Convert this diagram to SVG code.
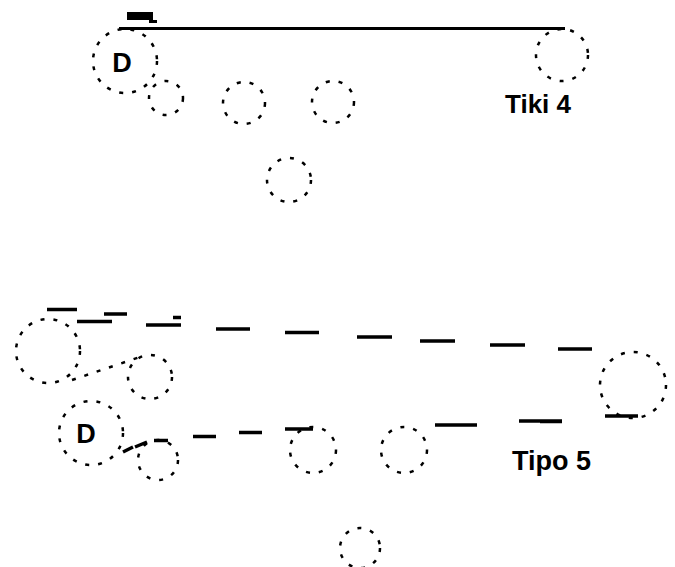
<svg xmlns="http://www.w3.org/2000/svg" width="675" height="567" viewBox="0 0 675 567">
<style>
.n{fill:none;stroke:#000;stroke-width:2.5;stroke-dasharray:4 9}
.t{font-family:"Liberation Sans",Arial,sans-serif;fill:#000}
.c{fill:none;stroke:#000;stroke-width:3}
.d{fill:none;stroke:#000;stroke-width:3.5}
</style>
<rect width="675" height="567" fill="#fff"/>
<g id="connectors">
<line class="c" x1="119" y1="28.5" x2="565" y2="28.5"/>
<path d="M127 12h26v8h4v3h-8v-3h-22z" fill="#000"/>
<path class="d" d="M77 321.5h35M104 314h23M146 325h35M173 317.5h8M216 329h34M285 332.5h34M357 337h35M420 341h35M490 345h35M558 349h34M47 309.5h30"/>
<path class="d" d="M123 452l10-5M135 447l12-5M154 440.5h14M193 436.5h23M239 432.5h23M285 429h28M435 425h42M519 421h43M540 421.5h22M605 416h33"/>
<path class="n" d="M72 380L140 357"/>
</g>
<g id="top-d"><circle class="n" cx="125" cy="61" r="32"/><text class="t" x="122" y="72" font-size="27" font-weight="bold" text-anchor="middle">D</text></g>
<g id="top-c1"><circle class="n" cx="166" cy="98" r="17"/></g>
<g id="top-c2"><circle class="n" cx="244" cy="103" r="21"/></g>
<g id="top-c3"><circle class="n" cx="333" cy="102" r="21"/></g>
<g id="top-c4"><circle class="n" cx="289" cy="180" r="22"/></g>
<g id="top-right"><circle class="n" cx="562" cy="55" r="26"/><text class="t" x="505" y="113" font-size="26" font-weight="bold">Tiki 4</text></g>
<g id="bot-big"><circle class="n" cx="48" cy="351" r="32"/></g>
<g id="bot-small"><circle class="n" cx="150" cy="377" r="22"/></g>
<g id="bot-d"><circle class="n" cx="91" cy="433" r="32"/><text class="t" x="86" y="443" font-size="27" font-weight="bold" text-anchor="middle">D</text></g>
<g id="bot-c1"><circle class="n" cx="158" cy="460" r="20"/></g>
<g id="bot-c2"><circle class="n" cx="313" cy="450" r="23"/></g>
<g id="bot-c3"><circle class="n" cx="404" cy="450" r="23"/></g>
<g id="bot-right"><circle class="n" cx="633" cy="385" r="33"/><text class="t" x="512" y="470" font-size="27" font-weight="bold">Tipo 5</text></g>
<g id="bot-c4"><circle class="n" cx="360" cy="548" r="20"/></g>
</svg>
